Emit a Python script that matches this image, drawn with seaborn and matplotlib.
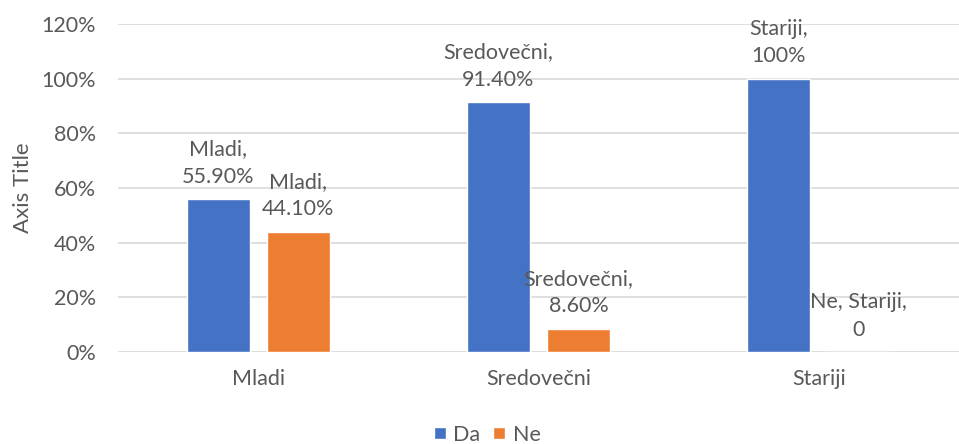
import pandas as pd
import seaborn as sns
import matplotlib.pyplot as plt
from matplotlib.ticker import PercentFormatter

categories = ["Mladi", "Sredovečni", "Stariji"]
series = ["Da", "Ne"]
da_values = [0.559, 0.914, 1.0]
ne_values = [0.441, 0.086, 0.0]
da_labels = ["Mladi,\n55.90%", "Sredovečni,\n91.40%", "Stariji,\n100%"]
ne_labels = ["Mladi,\n44.10%", "Sredovečni,\n8.60%", "Ne, Stariji,\n0"]
yticks = [0, 0.2, 0.4, 0.6, 0.8, 1.0, 1.2]

TEXT = "#595959"
COLORS = {"Da": "#4472C4", "Ne": "#ED7D31"}
FS = 15.5

df = pd.DataFrame({
    "grupa": categories * 2,
    "odgovor": ["Da"] * 3 + ["Ne"] * 3,
    "udio": da_values + ne_values,
})

sns.set_theme(style="white")
plt.rcParams["font.family"] = ["Lato", "DejaVu Sans"]

fig = plt.figure(figsize=(9.59, 4.44), dpi=100)
ax = fig.add_axes([0.123, 0.207, 0.877, 0.739])

sns.barplot(data=df, x="grupa", y="udio", hue="odgovor", order=categories,
            hue_order=series, palette=COLORS, width=0.57, gap=0.21,
            saturation=1, errorbar=None, ax=ax, legend=True)

for cont, labs in zip(ax.containers, [da_labels, ne_labels]):
    ax.bar_label(cont, labels=labs, padding=9, color=TEXT, fontsize=FS,
                 linespacing=1.45)

ax.set_ylim(0, 1.2)
ax.set_yticks(yticks)
ax.yaxis.set_major_formatter(PercentFormatter(1.0, decimals=0))
ax.grid(axis="y", color="#d9d9d9", linewidth=1.2)
ax.set_axisbelow(True)
for s in ax.spines.values():
    s.set_visible(False)
ax.tick_params(axis="both", colors=TEXT, labelsize=FS, length=0)
ax.tick_params(axis="x", pad=12)
ax.tick_params(axis="y", pad=16)
ax.set_xlabel("")
ax.set_ylabel("Axis Title", color=TEXT, fontsize=FS + 0.5, labelpad=6)

handles, lbls = ax.get_legend_handles_labels()
ax.get_legend().remove()
fig.legend(handles, lbls, loc="lower center", bbox_to_anchor=(0.508, -0.045),
           ncol=2, frameon=False, handlelength=0.55, handleheight=0.55,
           handletextpad=0.35, columnspacing=0.6, fontsize=FS, labelcolor=TEXT)

plt.savefig("out.png", dpi=100)
